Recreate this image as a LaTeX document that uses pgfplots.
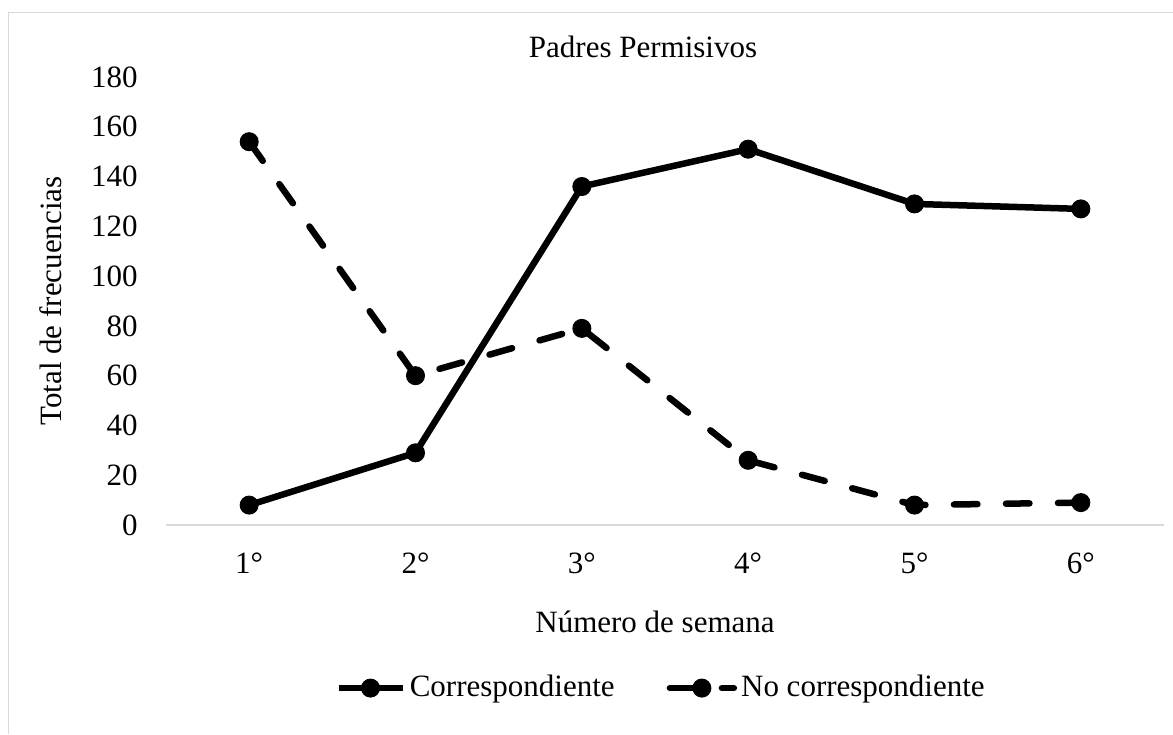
\documentclass[border=0pt]{standalone}
\usepackage{pgfplots}
\pgfplotsset{compat=1.18}
\usepackage{fontspec}
\setmainfont{Liberation Serif}
\definecolor{axgray}{HTML}{D9D9D9}
\begin{document}
\fontsize{15.5}{18}\selectfont
\begin{tikzpicture}[x=1pt,y=1pt]
\useasboundingbox (0,0) rectangle (586.5,367);
\draw[axgray, line width=0.75pt] (4.25,0) -- (4.25,360.75) -- (586.5,360.75);
\begin{axis}[
  at={(83pt,104.5pt)}, anchor=south west,
  scale only axis, width=499pt, height=224pt,
  xmin=0.5, xmax=6.5, ymin=0, ymax=180,
  enlargelimits=false, clip=false,
  xtick={1,2,3,4,5,6}, xticklabels={1°,2°,3°,4°,5°,6°},
  ytick={0,20,...,180},
  axis x line=bottom, axis y line=left,
  x axis line style={-, axgray, line width=0.75pt},
  y axis line style={draw=none},
  major tick length=0pt,
  /pgf/number format/assume math mode=true,
  ticklabel style={font=\fontsize{15.5}{18}\selectfont},
  yticklabel style={anchor=east, inner sep=0pt, xshift=-14pt},
  xticklabel style={anchor=north, inner sep=0pt, yshift=-13.5pt},
  title={Padres Permisivos},
  title style={at={(axis description cs:0.478,1.04)}, anchor=center, inner sep=0pt},
  xlabel={Número de semana},
  xlabel style={at={(axis description cs:0.49,-0.2165)}, anchor=center, inner sep=0pt},
  ylabel={Total de frecuencias},
  ylabel style={at={(axis description cs:-0.1152,0.5)}, anchor=center, rotate=0, inner sep=0pt},
  legend columns=2,
  legend style={at={(axis description cs:0.497,-0.364)}, anchor=center, draw=none, fill=none,
    font=\fontsize{15.5}{18}\selectfont, inner sep=0pt,
    /tikz/every even column/.append style={column sep=24pt}},
  legend cell align=left,
  legend image code/.code={\draw[mark repeat=2, mark phase=2, #1] plot coordinates {(0pt,0pt) (16pt,0pt) (32pt,0pt)};},
]
\addplot[black, line width=3.25pt, line join=round, mark=*, mark size=4.5pt, mark options={line width=0.5pt}]
  coordinates {(1,8) (2,29) (3,136) (4,151) (5,129) (6,127)};
\addlegendentry{Correspondiente}
\addplot[black, line width=3.25pt, line cap=round, line join=round, dash pattern=on 11.75pt off 14.25pt, mark=*, mark size=4.5pt, mark options={solid, line width=0.5pt}]
  coordinates {(1,154) (2,60) (3,79) (4,26) (5,8) (6,9)};
\addlegendentry{No correspondiente}
\end{axis}
\end{tikzpicture}
\end{document}
